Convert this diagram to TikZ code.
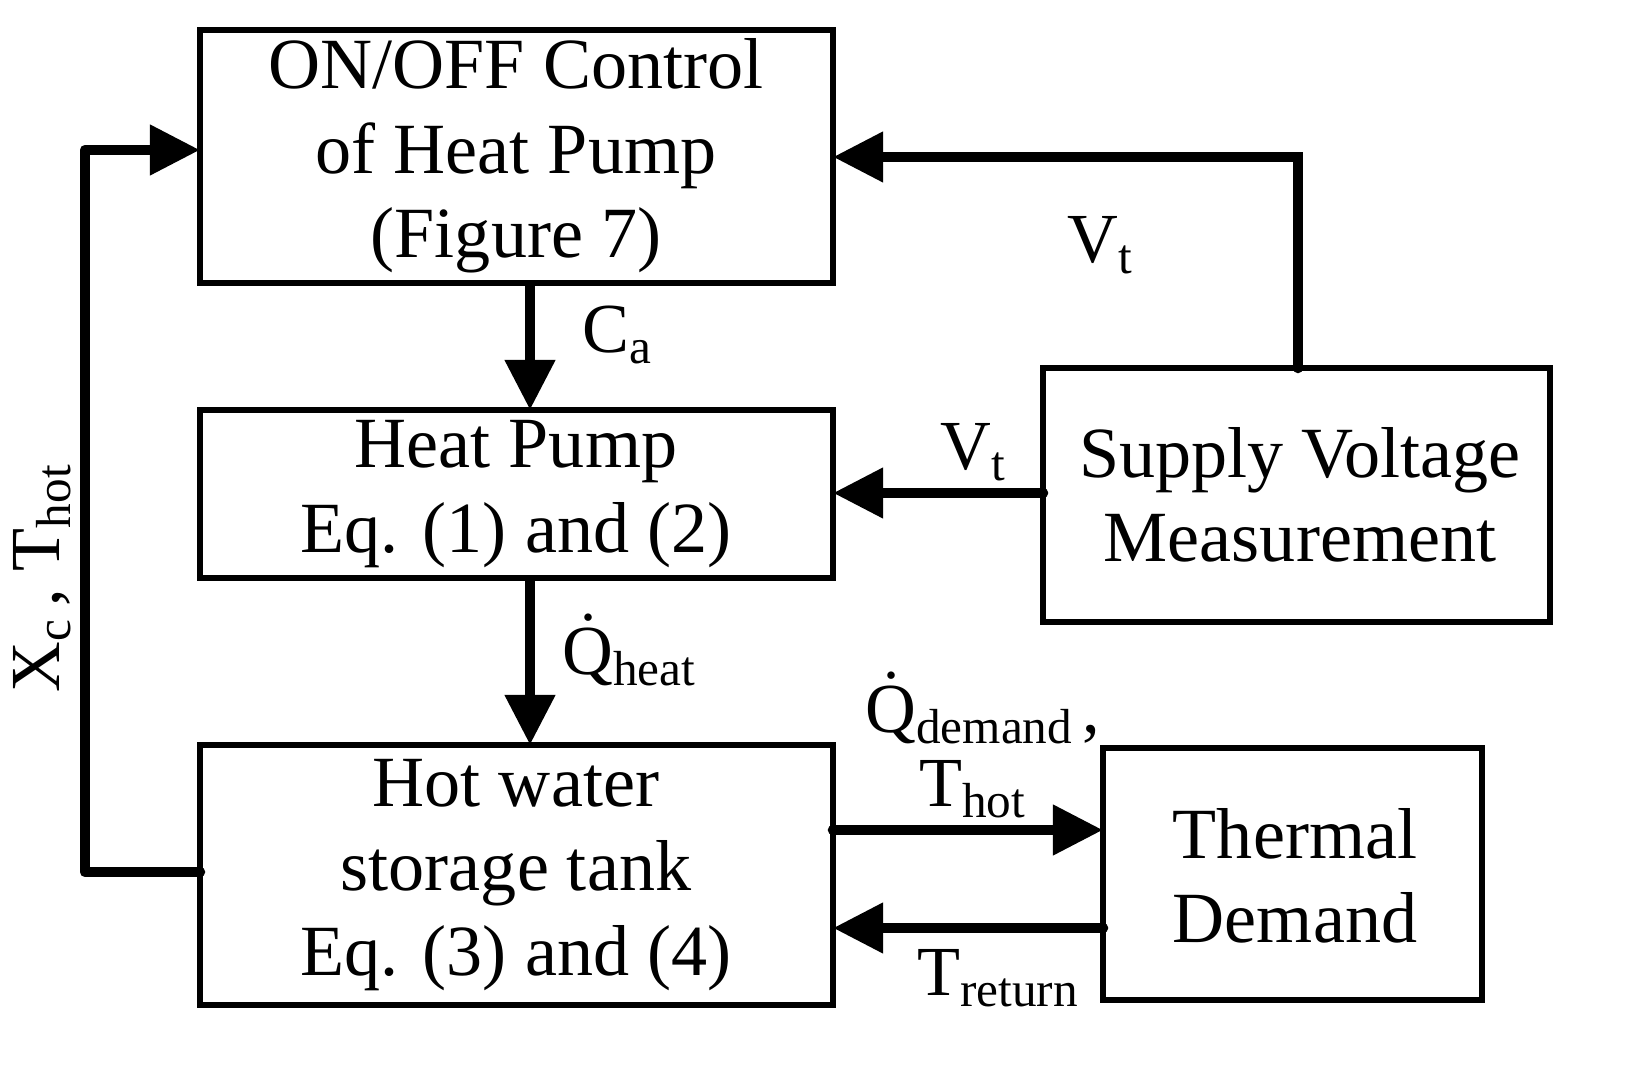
\documentclass[tikz,border=0pt]{standalone}
\usepackage{fontspec}
\setmainfont{Liberation Serif}
\usetikzlibrary{arrows.meta}
\begin{document}
\begin{tikzpicture}[x=0.01cm,y=-0.01cm,
  blk/.style={draw,line width=1.6pt,minimum width=0pt,inner sep=0pt},
  txt/.style={font=\fontsize{20.5pt}{24pt}\selectfont,align=center},
  lbl/.style={font=\fontsize{20pt}{24pt}\selectfont},
  arr/.style={line width=3pt,-{Triangle[length=0.5cm,width=0.48cm]}}]
\useasboundingbox (0,0) rectangle (1631,1068);
% boxes
\draw[blk] (200,30) rectangle (833,283);
\node[txt] (ctrl) at (516,156) {ON/OFF Control\\of Heat Pump\\(Figure 7)};
\draw[blk] (200,410) rectangle (833,578);
\node[txt] (hp) at (516,494) {Heat Pump\\Eq. (1) and (2)};
\draw[blk] (200,745) rectangle (833,1005);
\node[txt] (tank) at (516,875) {Hot water\\storage tank\\Eq. (3) and (4)};
\draw[blk] (1043,368) rectangle (1550,622);
\node[txt] (sv) at (1300,495) {Supply Voltage\\Measurement};
\draw[blk] (1103,748) rectangle (1482,1000);
\node[txt] (td) at (1295,876) {Thermal\\Demand};
% anchor coordinates
\coordinate (c1) at (530,283); \coordinate (h1) at (530,410);
\coordinate (h2) at (530,578); \coordinate (t1) at (530,745);
\coordinate (s1) at (1298,368); \coordinate (s2) at (1298,157); \coordinate (c2) at (833,157);
\coordinate (s3) at (1043,493); \coordinate (h3) at (833,493);
\coordinate (t2) at (833,830); \coordinate (d1) at (1103,830);
\coordinate (d2) at (1103,928); \coordinate (t3) at (833,928);
\coordinate (t4) at (200,872); \coordinate (l1) at (85,872); \coordinate (l2) at (85,150);
\coordinate (c3) at (200,150);
% connectors
\draw[arr] (c1) -- (h1);
\draw[arr] (h2) -- (t1);
\draw[arr,line cap=round] (s1) -- (s2) -- (c2);
\draw[arr,line cap=round] (s3) -- (h3);
\draw[arr,line cap=round] (t2) -- (d1);
\draw[arr,line cap=round] (d2) -- (t3);
\draw[arr,line cap=round,line join=round] (t4) -- (l1) -- (l2) -- (c3);
% labels
\node[lbl,anchor=west] (la) at (570,335) {C\textsubscript{a}};
\node[lbl,anchor=west] (lq) at (550,650) {\.{Q}\textsubscript{heat}};
\node[lbl,anchor=west] (lv1) at (1055,245) {V\textsubscript{t}};
\node[lbl,anchor=west] (lv2) at (928,452) {V\textsubscript{t}};
\node[lbl,anchor=west] (ld) at (853,708) {\.{Q}\textsubscript{demand\,},};
\node[lbl,anchor=south west,inner sep=1pt] (lh) at (915,822) {T\textsubscript{hot}};
\node[lbl,anchor=west] (lr) at (905,978) {T\textsubscript{return}};
\node[lbl,rotate=90] (lx) at (42,578) {X\textsubscript{c}\,, T\textsubscript{hot}};
\end{tikzpicture}
\end{document}
